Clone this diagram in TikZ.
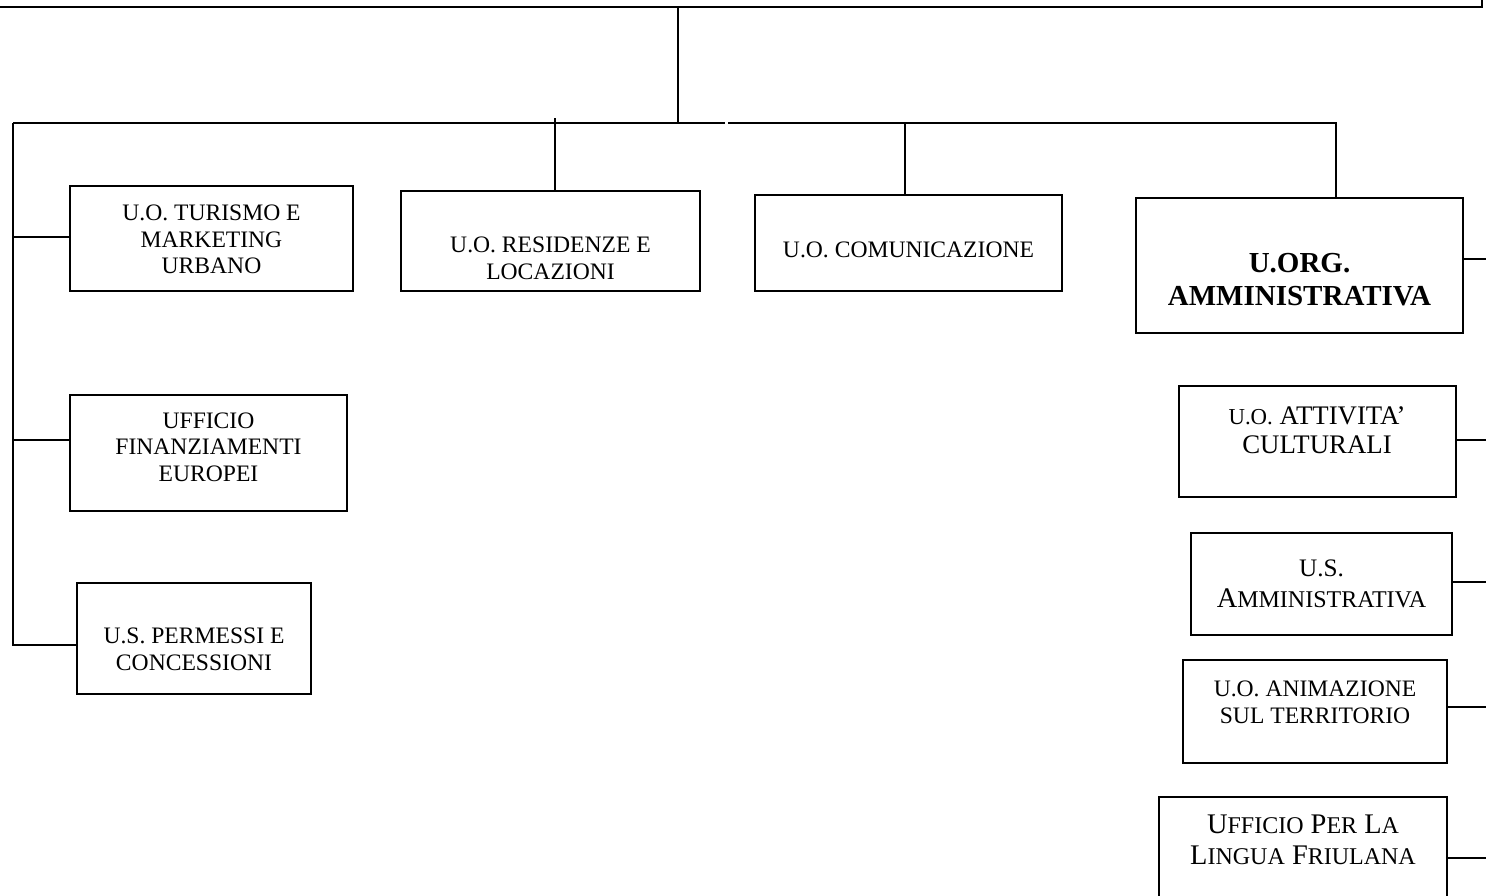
\documentclass[tikz,border=0pt]{standalone}
\usepackage{fontspec}
\setmainfont{Liberation Serif}
\newcommand\fscA[1]{{\fontsize{11.4}{15}\selectfont #1}}
\newcommand\fscB[1]{{\fontsize{12}{16}\selectfont #1}}
\begin{document}
\begin{tikzpicture}[x=0.5pt,y=-0.5pt,
  box/.style={draw, line width=0.75pt, inner sep=0pt},
  bbox/.style={draw, line width=1.1pt, inner sep=0pt},
  txt/.style={align=center, font=\fontsize{11.8}{13.3}\selectfont, inner sep=0pt},
  txtA/.style={align=center, font=\fontsize{13.4}{14.5}\selectfont, inner sep=0pt},
  txtB/.style={align=center, font=\fontsize{14.2}{15.5}\selectfont, inner sep=0pt},
  btxt/.style={align=center, font=\fontsize{14.5}{16.5}\selectfont\bfseries, inner sep=0pt},
  conn/.style={line width=0.75pt},
  bus/.style={line width=1pt}]
\useasboundingbox (0,0) rectangle (1486,895);
\clip (0,0) rectangle (1486,895);
% top box (cut off)
\coordinate (tl) at (-20,-60);
\coordinate (br) at (1482,7);
\draw[line width=1pt] (tl) rectangle (br);
\coordinate (topb) at (678,7);
\coordinate (busc) at (678,123);
\coordinate (busl) at (13,123);
\coordinate (busg1) at (725,123);
\coordinate (busg2) at (728,123);
\coordinate (busr) at (1337,123);
\coordinate (leftend) at (13,646);
\coordinate (v4) at (555,118);
\coordinate (v5) at (905,123);
\coordinate (v6) at (1336,123);
% boxes
\node[box, minimum width=141.5pt, minimum height=52.5pt] (b1) at (211.5,238.5) {};
\node[box, minimum width=138.5pt, minimum height=58pt] (b2) at (208.5,453) {};
\node[box, minimum width=117pt, minimum height=55.5pt] (b3) at (194,638.5) {};
\node[box, minimum width=149.5pt, minimum height=50pt] (b4) at (550.5,241) {};
\node[box, minimum width=153.5pt, minimum height=48pt] (b5) at (908.5,243) {};
\node[bbox, minimum width=163.5pt, minimum height=67.5pt] (b6) at (1299.5,265.5) {};
\node[box, minimum width=138.5pt, minimum height=55.5pt] (b7) at (1317.5,441.5) {};
\node[box, minimum width=130.5pt, minimum height=51pt] (b8) at (1321.5,584) {};
\node[box, minimum width=132pt, minimum height=51.5pt] (b9) at (1315,711.5) {};
\node[box, minimum width=144pt, minimum height=56.5pt] (b10) at (1303,853.5) {};
% texts
\node[txt] (t1) at (211.5,239.5) {U.O. TURISMO E\\MARKETING\\URBANO};
\node[txt] (t2) at (208.5,447) {UFFICIO\\FINANZIAMENTI\\EUROPEI};
\node[txt] (t3) at (194,649) {U.S. PERMESSI E\\CONCESSIONI};
\node[txt] (t4) at (550.5,258) {U.O. RESIDENZE E\\LOCAZIONI};
\node[txt] (t5) at (908.5,250) {U.O. COMUNICAZIONE};
\node[btxt] (t6) at (1299.5,280) {U.ORG.\\AMMINISTRATIVA};
\node[txtA] (t7) at (1317,430.5) {\fscA{U.O.} ATTIVITA’\\CULTURALI};
\node[txtB] (t8) at (1321.5,583.5) {{\fontsize{12.6}{16}\selectfont U.S.}\\A\fscB{MMINISTRATIVA}};
\node[txt] (t9) at (1315,702) {U.O. ANIMAZIONE\\SUL TERRITORIO};
\node[txtB] (t10) at (1303,839.5) {U\fscB{FFICIO} P\fscB{ER} L\fscB{A}\\L\fscB{INGUA} F\fscB{RIULANA}};
% connectors
\draw[conn] (topb) -- (busc);
\draw[bus] (busl) -- (busg1);
\draw[bus] (busg2) -- (busr);
\draw[bus] (busl) -- (leftend);
\draw[conn] (v4) -- (v4 |- b4.north);
\draw[conn] (v5) -- (v5 |- b5.north);
\draw[conn] (v6) -- (v6 |- b6.north);
\coordinate (l1) at (13,237);
\coordinate (l2) at (13,440);
\coordinate (l3) at (13,645);
\draw[conn] (l1) -- (b1.west |- l1);
\draw[conn] (l2) -- (b2.west |- l2);
\draw[conn] (l3) -- (b3.west |- l3);
\coordinate (r6) at (1486,259);
\coordinate (r7) at (1486,440);
\coordinate (r8) at (1486,582);
\coordinate (r9) at (1486,707);
\coordinate (r10) at (1486,858);
\draw[conn] (b6.east |- r6) -- (r6);
\draw[conn] (b7.east |- r7) -- (r7);
\draw[conn] (b8.east |- r8) -- (r8);
\draw[conn] (b9.east |- r9) -- (r9);
\draw[conn] ([xshift=-1pt]b10.east |- r10) -- (r10);
\end{tikzpicture}
\end{document}
